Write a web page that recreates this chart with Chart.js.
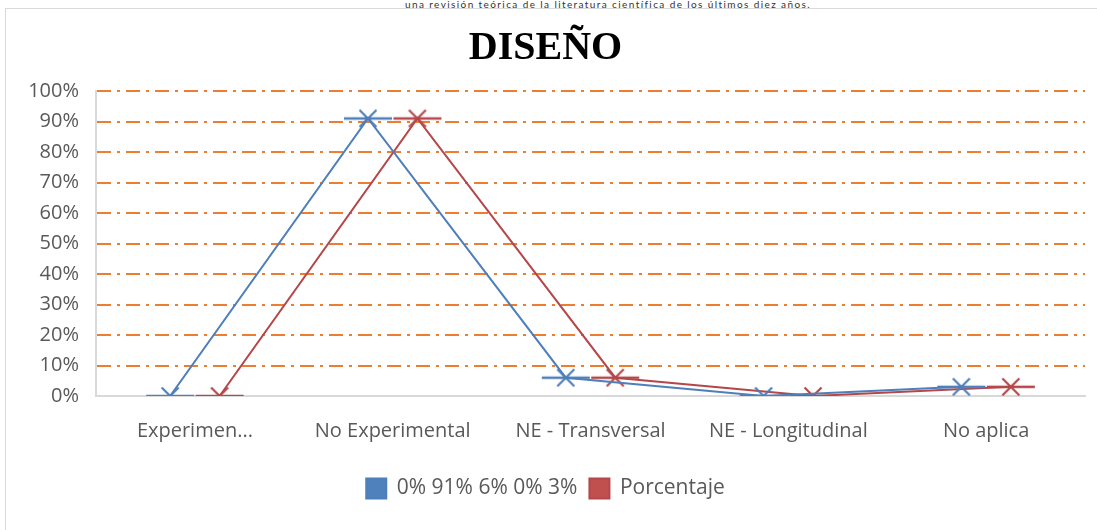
<!DOCTYPE html>
<html>
<head>
<meta charset="utf-8">
<script src="https://cdn.jsdelivr.net/npm/chart.js@4/dist/chart.umd.min.js"></script>
<style>
  body { margin: 0; background: #fff; width: 1097px; height: 530px; overflow: hidden; position: relative; font-family: Lato, sans-serif; }
  #topline { position: absolute; left: 405px; top: -1px; font-size: 10px; line-height: 10px; color: #333; white-space: nowrap; letter-spacing: 1.4px; }
  #box { position: absolute; left: 5px; top: 8px; width: 1092px; height: 522px; border-left: 1px solid #d9d9d9; border-top: 1px solid #d9d9d9; }
  canvas { display: block; }
</style>
</head>
<body>
<div id="topline">una revisión teórica de la literatura científica de los últimos diez años.</div>
<div id="box"><canvas id="chart" width="1091" height="521"></canvas></div>
<script>
const categories = ["Experimen...", "No Experimental", "NE - Transversal", "NE - Longitudinal", "No aplica"];
const serieA = [0, 0.91, 0.06, 0, 0.03];
const porcentaje = [0, 0.91, 0.06, 0, 0.03];
const yTicks = [0, 0.1, 0.2, 0.3, 0.4, 0.5, 0.6, 0.7, 0.8, 0.9, 1];

const blue = "#4F7FBA";
const red = "#B5474A";

// excel-ish marker: an X with a flat dash through it
function marker(color) {
    const c = document.createElement("canvas");
    c.width = 50; c.height = 20;
    const g = c.getContext("2d");
    g.strokeStyle = color;
    g.lineWidth = 2.5;
    g.beginPath(); g.moveTo(1, 10); g.lineTo(49, 10); g.stroke();
    g.lineWidth = 2.2;
    g.beginPath();
    g.moveTo(16.5, 1.5); g.lineTo(33.5, 18.5);
    g.moveTo(33.5, 1.5); g.lineTo(16.5, 18.5);
    g.stroke();
    return c;
}

const shift = 0.125;
const ptsA = serieA.map((v, i) => ({x: i - shift, y: v}));
const ptsB = porcentaje.map((v, i) => ({x: i + shift, y: v}));

const tickFont = {family: "Open Sans", size: 20};

new Chart("chart", {
    type: "line",
    data: {
        datasets: [{
            label: "0% 91% 6% 0% 3%",
            data: ptsA,
            borderColor: blue,
            backgroundColor: "#4F81BD",
            borderWidth: 2,
            pointStyle: marker(blue),
            tension: 0
        }, {
            label: "Porcentaje",
            data: ptsB,
            borderColor: red,
            backgroundColor: "#C0504D",
            borderWidth: 2,
            pointStyle: marker(red),
            tension: 0
        }]
    },
    options: {
        responsive: false,
        animation: false,
        layout: {padding: {left: 0, right: 12, top: 0, bottom: 21}},
        plugins: {
            title: {
                display: true,
                text: "DISEÑO",
                color: "#000",
                font: {family: "Liberation Serif", size: 40, weight: "bold"},
                padding: {top: 16, bottom: 18}
            },
            legend: {
                position: "bottom",
                labels: {
                    color: "#595959",
                    font: {family: "Open Sans", size: 21},
                    boxWidth: 20,
                    boxHeight: 20,
                    padding: 12
                }
            },
            tooltip: {enabled: false}
        },
        scales: {
            x: {
                type: "linear",
                min: -0.5,
                max: 4.5,
                afterBuildTicks: axis => { axis.ticks = categories.map((c, i) => ({value: i})); },
                ticks: {
                    callback: v => categories[v],
                    color: "#595959",
                    font: tickFont,
                    padding: 23,
                    maxRotation: 0
                },
                grid: {display: false, drawTicks: false},
                border: {display: true, color: "#d9d9d9", width: 2}
            },
            y: {
                min: 0,
                max: 1,
                afterBuildTicks: axis => { axis.ticks = yTicks.map(v => ({value: v})); },
                afterFit: axis => { axis.width = 90; },
                ticks: {
                    callback: v => Math.round(v * 100) + "%",
                    color: "#595959",
                    font: tickFont,
                    padding: 17
                },
                grid: {
                    color: ctx => ctx.tick && ctx.tick.value === 0 ? "rgba(0,0,0,0)" : "#ED7D31",
                    lineWidth: 2,
                    drawTicks: false
                },
                border: {display: true, color: "#d9d9d9", width: 2, dash: [14, 6, 3, 6]}
            }
        }
    }
});
</script>
</body>
</html>
